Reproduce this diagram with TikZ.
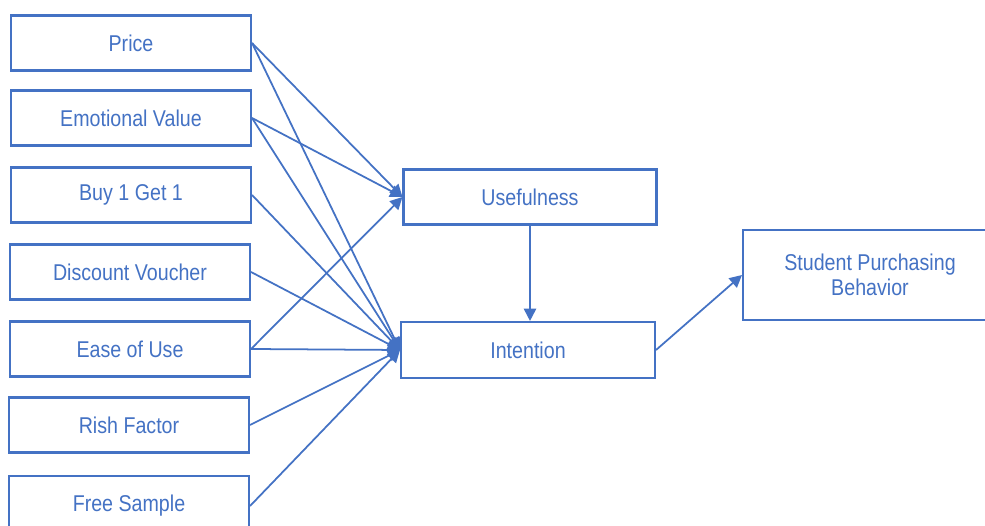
\documentclass[tikz,border=0pt]{standalone}
\usepackage{fontspec}
\setmainfont[FakeStretch=0.86]{Liberation Sans}
\usetikzlibrary{arrows.meta}
\definecolor{ofblue}{RGB}{68,114,196}
\tikzset{box/.style={draw=ofblue, line width=1.2pt, text=ofblue, minimum width=4.8cm, minimum height=1.1cm, align=center, font=\fontsize{13}{14.5}\selectfont, inner sep=0pt},
  link/.style={draw=ofblue, line width=1pt, -{Triangle[length=7pt,width=7pt]}}}

\begin{document}
\begin{tikzpicture}[x=0.02cm, y=-0.02cm]
\clip (0,0) rectangle (985,526);
\fill[white] (0,0) rectangle (985,526);
    \node[box] (Pr) at (131,43) {Price};
    \node[box] (EV) at (131,118) {Emotional Value};
\node[box] (B1) at (131,195) {Buy 1 Get 1};
\node[box] (DV) at (130,272) {Discount Voucher};
\node[box] (EU) at (130,349) {Ease of Use};
\node[box] (RF) at (129,425) {Rish Factor};
\node[box, minimum height=1.2cm] (FS) at (129,506) {Free Sample};
\node[box, minimum width=5.06cm] (U) at (530,197) {Usefulness};
\node[box, minimum width=5.08cm, minimum height=1.12cm] (I) at (528,350) {Intention};
\node[box, minimum width=5.08cm, minimum height=1.8cm] (S) at (870,275) {Student Purchasing\\Behavior};
\draw[link] (Pr.east) to (U.west); \draw[link] (Pr.east) to (I.west);
\draw[link] (EV.east) to (U.west); \draw[link] (EV.east) to (I.west);
\draw[link] (B1.east) to (I.west);
\draw[link] (DV.east) to (I.west);
\draw[link] (EU.east) to (U.west); \draw[link] (EU.east) to (I.west);
\draw[link] (RF.east) to (I.west);
\draw[link] (FS.east) to (I.west);
\draw[link] (U.south) to (U.south |- I.north);
\draw[link] (I.east) to (S.west);

  \end{tikzpicture}
\end{document}
